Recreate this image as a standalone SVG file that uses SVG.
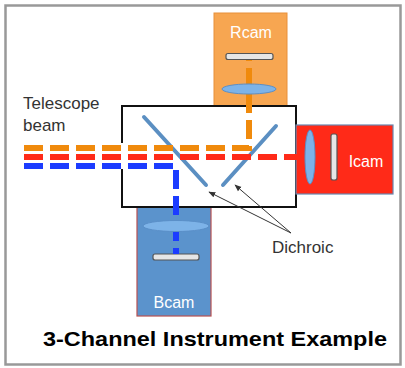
<svg xmlns="http://www.w3.org/2000/svg" width="405" height="368" viewBox="0 0 405 368">
<style>
.lbl{font-family:"Liberation Sans",Arial,sans-serif;font-size:17px;fill:#333}
.cam{font-family:"Liberation Sans",Arial,sans-serif;font-size:16px;fill:#fff;text-anchor:middle}
.beam{fill:none;stroke-width:6;stroke-dasharray:19 7}
.lens{fill:#7DB3E8;stroke:#5A8FC8;stroke-width:1}
.det{fill:#E6E6E6;stroke:#555;stroke-width:1.2}
.mirror{stroke:#5B8FC2;stroke-width:4;stroke-linecap:round}
.ptr{stroke:#333;stroke-width:1;fill:none;marker-end:url(#ah)}
</style>
<defs>
<marker id="ah" viewBox="0 0 10 10" refX="9" refY="5" markerWidth="7" markerHeight="7" orient="auto" markerUnits="userSpaceOnUse">
<path d="M0,1 L10,5 L0,9 Z" fill="#333"/>
</marker>
</defs>
<rect x="0" y="0" width="405" height="368" fill="#fff"/>
<rect x="5.5" y="5.5" width="395" height="359" fill="#fff" stroke="#999" stroke-width="2.5"/>

<g id="rcam">
<rect x="214" y="13" width="73" height="96" fill="#F7A651" stroke="#E8903A" stroke-width="1"/>
<text class="cam" x="251" y="38">Rcam</text>
<rect class="det" x="226" y="53.5" width="47" height="6" rx="2"/>
</g>
<g id="bcam">
<rect x="137" y="204" width="74" height="112" fill="#5B93CC" stroke="#B85050" stroke-width="1.2"/>
<text class="cam" x="174" y="308">Bcam</text>
<rect class="det" x="153" y="254" width="46" height="6" rx="2"/>
</g>
<g id="instrument">
<path d="M122,143 V106 H296 V207 H122 V169" fill="#fff" stroke="none"/>
<path d="M122,143 V106 H296 V207 H122 V169" fill="none" stroke="#111" stroke-width="2"/>
</g>
<g id="icam">
<rect x="296" y="125" width="97" height="69" fill="#FF2A18" stroke="#6A88B0" stroke-width="1.2"/>
<text class="cam" x="366" y="167">Icam</text>
<rect class="det" x="331" y="134" width="6" height="46" rx="2"/>
</g>
<g id="dichroic-mirrors">
<line class="mirror" x1="144" y1="117" x2="206" y2="185"/>
<line class="mirror" x1="276" y1="126" x2="223" y2="185"/>
</g>

<g id="connectors">
<path class="beam" stroke="#F08A0C" d="M24,148 H249 V60"/>
<path class="beam" stroke="#FF2A18" d="M24,157 H325"/>
<path class="beam" stroke="#1C3CFF" d="M24,166 H176 V254"/>
<line class="ptr" x1="291" y1="233" x2="209" y2="192"/>
<line class="ptr" x1="291" y1="233" x2="235" y2="185"/>
</g>

<g id="lenses">
<ellipse class="lens" cx="249" cy="89" rx="27" ry="5"/>
<ellipse class="lens" cx="176" cy="226" rx="33" ry="5.5"/>
<ellipse class="lens" cx="310" cy="157" rx="5" ry="27"/>
</g>

<text class="lbl" x="23" y="109">Telescope</text>
<text class="lbl" x="23" y="131">beam</text>
<text class="lbl" x="272" y="253">Dichroic</text>
<text x="43" y="346" textLength="344" lengthAdjust="spacingAndGlyphs" style="font-family:'Liberation Sans',Arial,sans-serif;font-size:21px;font-weight:bold;fill:#000">3-Channel Instrument Example</text>
</svg>
